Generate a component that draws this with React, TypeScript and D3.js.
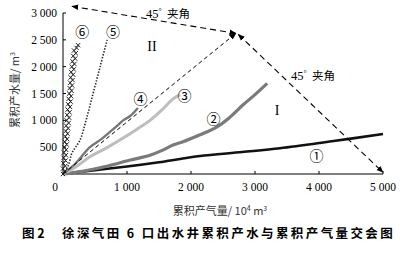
import React from "react";
import * as d3 from "d3";

const W = 400, H = 257;
const xTicks = [0, 1000, 2000, 3000, 4000, 5000];
const yTicks = [0, 500, 1000, 1500, 2000, 2500, 3000];
const xTickLabels = ["0", "1 000", "2 000", "3 000", "4 000", "5 000"];
const yTickLabels = ["0", "500", "1 000", "1 500", "2 000", "2 500", "3 000"];

const well1: [number, number][] = [[0,0],[300,45],[1000,140],[1500,220],[1830,280],[2140,335],[2800,410],[3390,480],[4200,610],[5000,745]];
const well2: [number, number][] = [[0,0],[300,50],[700,150],[1050,260],[1200,300],[1360,350],[1550,440],[1720,540],[1875,600],[2140,730],[2400,875],[2600,1050],[2810,1285],[3000,1480],[3190,1690]];
const well3: [number, number][] = [[0,0],[200,130],[420,320],[700,500],[940,670],[1150,830],[1360,1000],[1550,1200],[1720,1400],[1830,1480]];
const well4: [number, number][] = [[0,0],[200,200],[420,500],[600,650],[730,780],[850,900],[940,1000],[1050,1080],[1170,1230]];
const well5: [number, number][] = [[0,0],[80,150],[140,390],[265,630],[360,1000],[470,1500],[580,2000],[690,2500]];
const well6: [number, number][] = [[0,0],[25,50],[0,100],[35,150],[5,200],[40,250],[10,300],[45,350],[15,400],[50,450],[20,500],[58,550],[28,600],[65,650],[35,700],[72,750],[42,800],[80,850],[50,900],[88,950],[58,1000],[95,1050],[65,1100],[102,1150],[72,1200],[110,1250],[80,1300],[118,1350],[88,1400],[126,1450],[96,1500],[134,1550],[104,1600],[142,1650],[112,1700],[150,1750],[120,1800],[158,1850],[128,1900],[168,1950],[138,2000],[178,2050],[148,2100],[190,2150],[160,2200],[200,2250],[172,2300],[212,2350],[235,2400]];

const peak: [number, number] = [2700, 2620];
const topEnd: [number, number] = [140, 3125];
const rightEnd: [number, number] = [5000, 30];

const labels = [
  { t: "⑥", v: [300, 2650] },
  { t: "⑤", v: [780, 2650] },
  { t: "④", v: [1210, 1400] },
  { t: "③", v: [1900, 1450] },
  { t: "②", v: [2350, 1020] },
  { t: "①", v: [3960, 330] },
];

export default function App() {
  const x = d3.scaleLinear().domain([0, 5000]).range([63, 383]);
  const y = d3.scaleLinear().domain([0, 3000]).range([174, 13]);
  const line = d3.line<[number, number]>().x(d => x(d[0])).y(d => y(d[1])).curve(d3.curveCatmullRom);
  const cross = d3.symbol().type(d3.symbolTimes).size(14)();
  const serif = "'Liberation Serif', 'DejaVu Serif', serif";
  const cjk = "'Noto Sans CJK SC', sans-serif";
  return (
    <svg width={W} height={H} style={{ position: "absolute", left: 0, top: 0, background: "#fff" }}>
      <defs>
        <marker id="ah" viewBox="0 0 10 10" refX="9" refY="5" markerWidth="7" markerHeight="7" orient="auto-start-reverse" markerUnits="userSpaceOnUse">
          <path d="M0,1 L10,5 L0,9 Z" fill="#000" />
        </marker>
      </defs>
      {/* axes */}
      <line x1={x(0)} x2={x(5000)} y1={y(0)} y2={y(0)} stroke="#000" strokeWidth={1} />
      <line x1={x(0)} x2={x(0)} y1={y(0)} y2={y(3000)} stroke="#000" strokeWidth={1} />
      {xTicks.map((t, i) => (
        <g key={"x" + t}>
          {t > 0 && <line x1={x(t)} x2={x(t)} y1={y(0)} y2={y(0) - 3} stroke="#000" />}
          <text x={t === 0 ? x(t) - 8 : x(t)} y={191} textAnchor="middle" fontFamily={serif} fontSize={11.5}>{xTickLabels[i]}</text>
        </g>
      ))}
      {yTicks.map((t, i) => (
        <g key={"y" + t}>
          {t > 0 && <line x1={x(0)} x2={x(0) + 3} y1={y(t)} y2={y(t)} stroke="#000" />}
          {t > 0 && <text x={57} y={y(t) + 4} textAnchor="end" fontFamily={serif} fontSize={11.5}>{yTickLabels[i]}</text>}
        </g>
      ))}
      {/* series */}
      <path d={line(well1) || ""} fill="none" stroke="#111" strokeWidth={2.6} />
      <path d={line(well2) || ""} fill="none" stroke="#7a7a7a" strokeWidth={3.2} />
      <path d={line(well3) || ""} fill="none" stroke="#bdbdbd" strokeWidth={3} />
      <path d={line(well4) || ""} fill="none" stroke="#777" strokeWidth={2.4} />
      <path d={line(well5) || ""} fill="none" stroke="#222" strokeWidth={1.6} strokeDasharray="1.4,1.6" />
      {well6.map((d, i) => (
        <path key={i} d={cross || ""} transform={`translate(${x(d[0])},${y(d[1])})`} fill="none" stroke="#222" strokeWidth={1} />
      ))}
      {/* dashed guides */}
      <line x1={x(0)} y1={y(0)} x2={x(peak[0])} y2={y(peak[1])} stroke="#000" strokeWidth={1} strokeDasharray="4,3" markerEnd="url(#ah)" />
      <line x1={x(topEnd[0])} y1={y(topEnd[1])} x2={x(peak[0])} y2={y(peak[1])} stroke="#000" strokeWidth={1.1} strokeDasharray="6,4" markerStart="url(#ah)" markerEnd="url(#ah)" />
      <line x1={x(peak[0] + 40)} y1={y(peak[1] - 20)} x2={x(rightEnd[0])} y2={y(rightEnd[1])} stroke="#000" strokeWidth={1.1} strokeDasharray="6,4" markerStart="url(#ah)" markerEnd="url(#ah)" />
      {/* annotations */}
      <text x={146} y={18} fontFamily={serif} fontSize={12.5}>45<tspan fontSize={8} dy={-4}>°</tspan></text>
      <text x={167} y={18} fontFamily={cjk} fontSize={11.5}>夹角</text>
      <text x={291} y={80} fontFamily={serif} fontSize={12.5}>45<tspan fontSize={8} dy={-4}>°</tspan></text>
      <text x={312} y={80} fontFamily={cjk} fontSize={11.5}>夹角</text>
      <text x={152} y={51} textAnchor="middle" fontFamily={serif} fontSize={14}>II</text>
      <text x={277} y={115} textAnchor="middle" fontFamily={serif} fontSize={14}>I</text>
      {labels.map(l => (
        <text key={l.t} x={x(l.v[0])} y={y(l.v[1]) + 5} textAnchor="middle" fontFamily={cjk} fontSize={14}>{l.t}</text>
      ))}
      {/* axis titles */}
      <text x={220} y={215} textAnchor="middle" fontFamily={cjk} fontSize={11} fill="#333">
        累积产气量/ 10<tspan fontSize={7} dy={-4}>4</tspan><tspan dy={4}> m</tspan><tspan fontSize={7} dy={-4}>3</tspan>
      </text>
      <text transform="translate(19,90) rotate(-90)" textAnchor="middle" fontFamily={cjk} fontSize={11} fill="#333">
        累积产水量/ m<tspan fontSize={7} dy={-4}>3</tspan>
      </text>
      <text x={22} y={238} fontFamily={cjk} fontSize={12.5} fontWeight="bold">图 2</text>
      <text x={62} y={238} fontFamily={cjk} fontSize={12.5} fontWeight="bold" letterSpacing={2.4}>徐深气田 6 口出水井累积产水与累积产气量交会图</text>
    </svg>
  );
}
